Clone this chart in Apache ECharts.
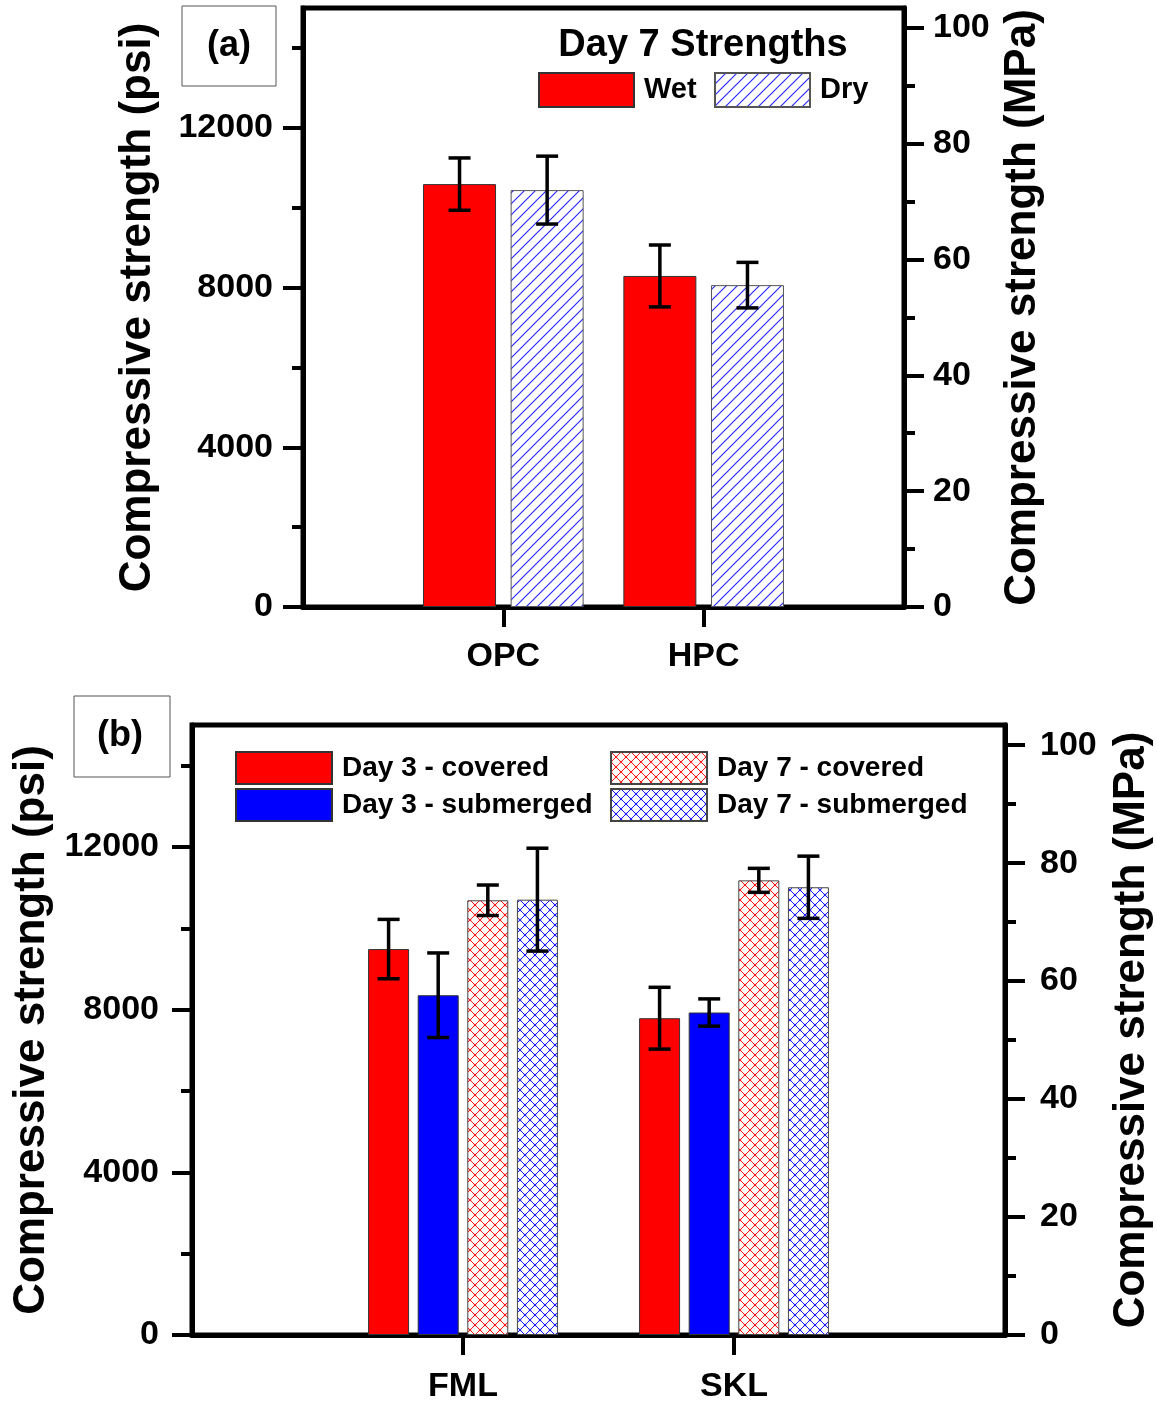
<!DOCTYPE html>
<html><head><meta charset="utf-8">
<script src="https://cdn.jsdelivr.net/npm/echarts@6/dist/echarts.min.js"></script>
<style>html,body{margin:0;padding:0;background:#fff}#c{width:1157px;height:1403px}</style>
</head><body><div id="c"></div>
<script>
// ---------- DATA ----------
const catsA = ['OPC', 'HPC'];
const wetA = [10590, 8290];
const wetErrA = [655, 775];
const dryA = [10440, 8060];
const dryErrA = [850, 570];

const catsB = ['FML', 'SKL'];
const d3CovB = [9490, 7790];
const d3CovErrB = [730, 760];
const d3SubB = [8355, 7930];
const d3SubErrB = [1040, 335];
const d7CovB = [10690, 11180];
const d7CovErrB = [375, 295];
const d7SubB = [10705, 11010];
const d7SubErrB = [1265, 765];

const psiTicks = [0, 4000, 8000, 12000];
const psiMinor = [2000, 6000, 10000, 14000];
const mpaTicks = [0, 20, 40, 60, 80, 100];
const mpaMinor = [10, 30, 50, 70, 90];
const PSI_MAX = 15000;
const PSI_PER_MPA = 145.038;

// ---------- STYLE HELPERS ----------
const FONT = '"Liberation Sans", Arial, sans-serif';
function hatchPattern(color) {
  const s = 11, c = document.createElement('canvas'); c.width = s; c.height = s;
  const g = c.getContext('2d'); g.fillStyle = '#fff'; g.fillRect(0, 0, s, s);
  g.strokeStyle = color; g.lineWidth = 1.2;
  g.beginPath();
  g.moveTo(-1, s + 1); g.lineTo(s + 1, -1);
  g.moveTo(-1, 1); g.lineTo(1, -1);
  g.moveTo(s - 1, s + 1); g.lineTo(s + 1, s - 1);
  g.stroke();
  return { image: c, repeat: 'repeat' };
}
function crossPattern(color) {
  const s = 10, c = document.createElement('canvas'); c.width = s; c.height = s;
  const g = c.getContext('2d'); g.fillStyle = '#fff'; g.fillRect(0, 0, s, s);
  g.strokeStyle = color; g.lineWidth = 1;
  g.beginPath();
  g.moveTo(0, 0); g.lineTo(s, s);
  g.moveTo(0, s); g.lineTo(s, 0);
  g.stroke();
  g.fillStyle = color;
  [[s / 2, s / 2], [0, 0], [s, 0], [0, s], [s, s]].forEach(p => { g.beginPath(); g.arc(p[0], p[1], 1.3, 0, Math.PI * 2); g.fill(); });
  return { image: c, repeat: 'repeat' };
}

function makeX(gi, cats, margin) {
  return {
    type: 'category', gridIndex: gi, data: ['', ...cats, ''], boundaryGap: false,
    axisLine: { show: true, lineStyle: { color: '#000', width: 5 } },
    axisTick: { show: true, inside: false, length: 20, lineStyle: { color: '#000', width: 4 }, interval: (i, v) => v !== '' },
    axisLabel: { interval: 0, margin, fontSize: 34, fontWeight: 'bold', color: '#000', fontFamily: FONT },
    splitLine: { show: false }
  };
}
function yMain(gi, pos, max, ticks, name, nameGap, margin) {
  return {
    type: 'value', gridIndex: gi, position: pos, offset: 0, min: 0, max,
    name, nameLocation: 'middle', nameGap, nameRotate: 90,
    nameTextStyle: { fontSize: 44, fontWeight: 'bold', color: '#000', fontFamily: FONT },
    axisLine: { show: true, onZero: false, lineStyle: { color: '#000', width: 5 } },
    axisTick: { show: true, inside: false, length: 20, lineStyle: { color: '#000', width: 4 }, customValues: ticks },
    axisLabel: { show: true, margin, fontSize: 34, fontWeight: 'bold', color: '#000', fontFamily: FONT, customValues: ticks, formatter: v => String(v) },
    splitLine: { show: false }
  };
}
function yMinor(gi, pos, max, ticks) {
  return {
    type: 'value', gridIndex: gi, position: pos, offset: 0, min: 0, max,
    axisLine: { show: false },
    axisTick: { show: true, inside: false, length: 11, lineStyle: { color: '#000', width: 4 }, customValues: ticks },
    axisLabel: { show: false },
    splitLine: { show: false }
  };
}
function barSeries(name, xi, yi, vals, color, bw, gap, border) {
  return {
    type: 'bar', name, xAxisIndex: xi, yAxisIndex: yi, barWidth: bw, barGap: gap,
    data: vals.map((v, i) => [i + 1, v]),
    itemStyle: { color, borderColor: border, borderWidth: 1 },
    emphasis: { disabled: true }
  };
}
function errSeries(name, xi, yi, vals, errs, slot, nSlots, bw, gapRatio) {
  return {
    type: 'custom', name, xAxisIndex: xi, yAxisIndex: yi, z: 10,
    data: vals.map((v, i) => [i + 1, v, errs[i]]),
    renderItem(params, api) {
      const x = api.value(0), v = api.value(1), e = api.value(2);
      const hi = api.coord([x, v + e]), lo = api.coord([x, v - e]);
      const off = (slot - (nSlots - 1) / 2) * bw * (1 + gapRatio);
      const cx = hi[0] + off, cap = 11;
      const st = { stroke: '#000', lineWidth: 3.5 };
      return {
        type: 'group', children: [
          { type: 'line', shape: { x1: cx, y1: hi[1], x2: cx, y2: lo[1] }, style: st },
          { type: 'line', shape: { x1: cx - cap, y1: hi[1], x2: cx + cap, y2: hi[1] }, style: st },
          { type: 'line', shape: { x1: cx - cap, y1: lo[1], x2: cx + cap, y2: lo[1] }, style: st }
        ]
      };
    }
  };
}
function leg(name, left, top, w, h, fs) {
  return {
    data: [name], left, top, padding: 0, itemWidth: w, itemHeight: h, icon: 'rect', selectedMode: false,
    textStyle: { fontSize: fs, fontWeight: 'bold', color: '#000', fontFamily: FONT, padding: [0, 0, 0, 5] }
  };
}

const hatchBlue = hatchPattern('#2b2bff');
const crossRed = crossPattern('#ff1a1a');
const crossBlue = crossPattern('#1a1aff');
const MPA_MAX = PSI_MAX / PSI_PER_MPA;

const chart = echarts.init(document.getElementById('c'), null, { renderer: 'canvas' });
chart.setOption({
  animation: false,
  backgroundColor: '#fff',
  textStyle: { fontFamily: FONT },
  grid: [
    { left: 303, top: 8, width: 601, height: 599, containLabel: false, outerBoundsMode: 'none', show: true, borderColor: '#000', borderWidth: 5, backgroundColor: 'transparent' },
    { left: 192, top: 725, width: 813, height: 610, containLabel: false, outerBoundsMode: 'none', show: true, borderColor: '#000', borderWidth: 5, backgroundColor: 'transparent' }
  ],
  xAxis: [makeX(0, catsA, 33), makeX(1, catsB, 35)],
  yAxis: [
    yMain(0, 'left', PSI_MAX, psiTicks, 'Compressive strength (psi)', 143, 30),
    yMinor(0, 'left', PSI_MAX, psiMinor),
    yMain(0, 'right', MPA_MAX, mpaTicks, 'Compressive strength (MPa)', 97, 29),
    yMinor(0, 'right', MPA_MAX, mpaMinor),
    yMain(1, 'left', PSI_MAX, psiTicks, 'Compressive strength (psi)', 138, 33),
    yMinor(1, 'left', PSI_MAX, psiMinor),
    yMain(1, 'right', MPA_MAX, mpaTicks, 'Compressive strength (MPa)', 105, 35),
    yMinor(1, 'right', MPA_MAX, mpaMinor)
  ],
  legend: [
    leg('Wet', 538, 72, 95, 34, 29),
    leg('Dry', 714, 72, 95, 34, 29),
    leg('Day 3 - covered', 235, 751, 96, 32, 28),
    leg('Day 3 - submerged', 235, 788, 96, 32, 28),
    leg('Day 7 - covered', 610, 751, 96, 32, 28),
    leg('Day 7 - submerged', 610, 788, 96, 32, 28)
  ],
  graphic: [
    { type: 'rect', shape: { x: 182, y: 6, width: 94, height: 80 }, style: { fill: '#fff', stroke: '#555', lineWidth: 1 } },
    { type: 'text', x: 229, y: 46, style: { text: '(a)', font: 'bold 36px ' + FONT, align: 'center', verticalAlign: 'middle', fill: '#000' } },
    { type: 'text', x: 703, y: 46, style: { text: 'Day 7 Strengths', font: 'bold 38px ' + FONT, align: 'center', verticalAlign: 'middle', fill: '#000' } },
    { type: 'rect', shape: { x: 74, y: 696, width: 96, height: 81 }, style: { fill: '#fff', stroke: '#555', lineWidth: 1 } },
    { type: 'text', x: 120, y: 736, style: { text: '(b)', font: 'bold 36px ' + FONT, align: 'center', verticalAlign: 'middle', fill: '#000' } }
  ],
  series: [
    barSeries('Wet', 0, 0, wetA, '#ff0000', 73, '20%', '#333'),
    barSeries('Dry', 0, 0, dryA, hatchBlue, 73, '20%', '#555'),
    errSeries('errWet', 0, 0, wetA, wetErrA, 0, 2, 73, 0.2),
    errSeries('errDry', 0, 0, dryA, dryErrA, 1, 2, 73, 0.2),
    barSeries('Day 3 - covered', 1, 4, d3CovB, '#ff0000', 41, '21%', '#333'),
    barSeries('Day 3 - submerged', 1, 4, d3SubB, '#0000ff', 41, '21%', '#333'),
    barSeries('Day 7 - covered', 1, 4, d7CovB, crossRed, 41, '21%', '#444'),
    barSeries('Day 7 - submerged', 1, 4, d7SubB, crossBlue, 41, '21%', '#444'),
    errSeries('e1', 1, 4, d3CovB, d3CovErrB, 0, 4, 41, 0.21),
    errSeries('e2', 1, 4, d3SubB, d3SubErrB, 1, 4, 41, 0.21),
    errSeries('e3', 1, 4, d7CovB, d7CovErrB, 2, 4, 41, 0.21),
    errSeries('e4', 1, 4, d7SubB, d7SubErrB, 3, 4, 41, 0.21)
  ]
});
</script>
</body></html>
